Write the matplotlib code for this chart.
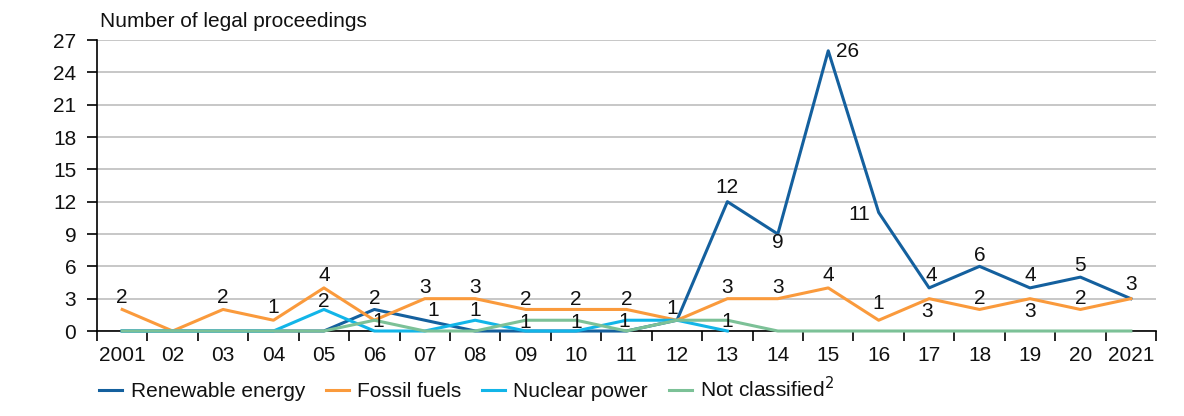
import matplotlib
matplotlib.use("Agg")
import matplotlib.pyplot as plt

plt.rcParams['font.family'] = ['Liberation Sans', 'DejaVu Sans']

# legal proceedings per year and energy source
years = ["2001", "02", "03", "04", "05", "06", "07", "08", "09", "10", "11",
         "12", "13", "14", "15", "16", "17", "18", "19", "20", "2021"]
renewable = [0, 0, 0, 0, 0, 2, 1, 0, 0, 0, 0, 1, 12, 9, 26, 11, 4, 6, 4, 5, 3]
fossil = [2, 0, 2, 1, 4, 1, 3, 3, 2, 2, 2, 1, 3, 3, 4, 1, 3, 2, 3, 2, 3]
nuclear = [0, 0, 0, 0, 2, 0, 0, 1, 0, 0, 1, 1, 0]
not_classified = [0, 0, 0, 0, 0, 1, 0, 0, 1, 1, 0, 1, 1, 0, 0, 0, 0, 0, 0, 0, 0]

c_ren = "#14609e"
c_fos = "#fa9a3c"
c_nuc = "#12b5e8"
c_not = "#7cc197"
fs = 15

fig = plt.figure(figsize=(11.84, 4.16), dpi=100)
ax = fig.add_axes([0.0819, 0.2043, 0.8945, 0.6995])

x = range(len(years))
lw = 2.2
kw = dict(lw=lw, zorder=3, clip_on=False)
ax.plot(x, renewable, color=c_ren, label="Renewable energy", **kw)
ax.plot(x, fossil, color=c_fos, label="Fossil fuels", **kw)
ax.plot(range(len(nuclear)), nuclear, color=c_nuc, label="Nuclear power", **kw)
ax.plot(x, not_classified, color=c_not, label="Not classified$^{2}$", **kw)

# data labels: (series, index, dx, dy) offsets in pixels
series = {"ren": renewable, "fos": fossil, "nuc": nuclear, "not": not_classified}
labels = [
    ("fos", 0, 0, 12), ("fos", 2, 0, 12), ("fos", 3, 0, 13), ("fos", 4, 0, 12),
    ("fos", 5, 4, -1), ("fos", 6, 0, 11), ("fos", 7, 0, 11), ("fos", 8, 0, 10),
    ("fos", 9, 0, 10), ("fos", 10, 0, 10), ("fos", 12, 0, 11), ("fos", 13, 0, 11),
    ("fos", 14, 0, 12), ("fos", 15, 0, 17), ("fos", 16, -2, -13), ("fos", 17, 0, 11),
    ("fos", 18, 0, -13), ("fos", 19, 0, 11),
    ("ren", 5, 0, 11), ("ren", 6, 8, 10), ("ren", 11, -5, 12), ("ren", 12, 0, 14),
    ("ren", 13, 0, -8), ("ren", 14, 19, -1), ("ren", 15, -19, -2), ("ren", 16, 2, 12),
    ("ren", 17, 0, 11), ("ren", 18, 0, 12), ("ren", 19, 0, 12), ("ren", 20, 0, 14),
    ("nuc", 4, 0, 8), ("nuc", 7, 0, 10), ("nuc", 10, -2, -1),
    ("not", 8, 0, -2), ("not", 9, 0, -2), ("not", 12, 0, -1),
]
for key, i, dx, dy in labels:
    v = series[key][i]
    ax.annotate(str(v), (i, v), xytext=(dx, dy), textcoords="offset pixels",
                ha="center", va="center", fontsize=fs, color="#111111", zorder=4)

ax.set_xlim(-0.5, len(years) - 0.5)
ax.set_ylim(0, 27)
ax.set_yticks(range(0, 28, 3))
ax.set_xticks([i - 0.5 for i in range(len(years) + 1)], minor=False)
ax.set_xticklabels([])
ax.set_xticks(list(x), minor=True)
ax.set_xticklabels(years, minor=True)
ax.tick_params(axis="x", which="minor", length=0, pad=11, labelsize=fs)
ax.tick_params(axis="x", which="major", length=7, width=1.2, direction="out")
ax.tick_params(axis="y", length=7, width=1.2, direction="out", labelsize=fs, pad=8)
for t in ax.get_xticklabels(minor=True) + ax.get_yticklabels():
    t.set_color("#111111")

ax.grid(axis="y", color="#bdbdbd", lw=1.2)
ax.set_axisbelow(True)
for s in ["top", "right"]:
    ax.spines[s].set_visible(False)
for s in ["left", "bottom"]:
    ax.spines[s].set_linewidth(1.2)

fig.text(0.0845, 0.948, "Number of legal proceedings", fontsize=fs, ha="left",
         va="center", color="#111111")

fig.legend(loc="lower left", bbox_to_anchor=(0.068, -0.01), ncol=4, frameon=False,
           fontsize=fs, handlelength=1.1, handletextpad=0.4, columnspacing=1.0,
           labelcolor="#111111")

fig.savefig("out.png", dpi=100)
